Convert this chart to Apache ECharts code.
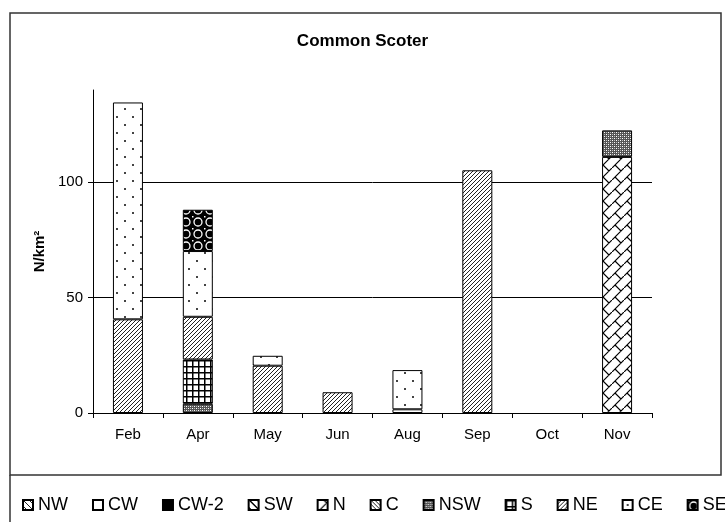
<!DOCTYPE html>
<html>
<head>
<meta charset="utf-8">
<script src="https://cdn.jsdelivr.net/npm/echarts@6/dist/echarts.min.js"></script>
<style>html,body{margin:0;padding:0;background:#fff;}#c{width:725px;height:522px;}</style>
</head>
<body>
<div id="c"></div>
<script>
// ---- data ----
var categories = ['Feb', 'Apr', 'May', 'Jun', 'Aug', 'Sep', 'Oct', 'Nov'];
var seriesNames = ['NW', 'CW', 'CW-2', 'SW', 'N', 'C', 'NSW', 'S', 'NE', 'CE', 'SE'];
var NW   = [null, null, null, null, null, null, null, null];
var CW   = [null, null, null, null, 1.6, null, null, null];
var CW2  = [null, null, null, null, null, null, null, null];
var SW   = [null, null, null, null, null, null, null, null];
var N    = [null, null, null, null, null, null, null, 111];
var C    = [null, null, null, null, null, null, null, null];
var NSW  = [null, 4, null, null, null, null, null, 11.5];
var S    = [null, 19.2, null, null, null, null, null, null];
var NE   = [40.6, 18.5, 20.5, 9, null, 105.2, null, null];
var CE   = [94, 28.5, 4.3, null, 17, null, null, null];
var SE   = [null, 17.9, null, null, null, null, null, null];
var seriesValues = [NW, CW, CW2, SW, N, C, NSW, S, NE, CE, SE];
var yTicks = [0, 50, 100];

// ---- patterns ----
function tile(w, h, draw) {
  var cv = document.createElement('canvas');
  cv.width = w; cv.height = h;
  var g = cv.getContext('2d');
  g.fillStyle = '#fff'; g.fillRect(0, 0, w, h);
  draw(g, w, h);
  return { image: cv, repeat: 'repeat' };
}
function px(g, x, y, c) { g.fillStyle = c || '#000'; g.fillRect(x, y, 1, 1); }

var patNW = tile(6, 6, function (g) { for (var i = 0; i < 6; i++) px(g, i, i, '#222'); });
var patSW = tile(8, 8, function (g) { for (var i = 0; i < 8; i++) { px(g, i, i); px(g, (i + 1) % 8, i); } });
var patN = tile(12, 12, function (g) {
  g.strokeStyle = '#000'; g.lineWidth = 1.2;
  g.beginPath();
  g.moveTo(-1, 13); g.lineTo(13, -1);
  g.moveTo(3, 9); g.lineTo(9, 15);
  g.moveTo(3, -3); g.lineTo(9, 3);
  g.moveTo(-9, 9); g.lineTo(-3, 15);
  g.moveTo(15, 9); g.lineTo(21, 15);
  g.moveTo(15, -3); g.lineTo(21, 3);
  g.stroke();
});
var patC = tile(4, 4, function (g) { for (var i = 0; i < 4; i++) px(g, i, i, '#222'); });
var patNSW = tile(4, 4, function (g) {
  g.fillStyle = '#555'; g.fillRect(0, 0, 4, 4);
  px(g, 0, 0, '#fff'); px(g, 2, 2, '#fff'); px(g, 2, 0, '#bbb'); px(g, 0, 2, '#bbb');
});
var patS = tile(6, 6, function (g) { g.fillStyle = '#000'; g.fillRect(0, 0, 6, 1.5); g.fillRect(0, 0, 1.5, 6); });
var patNE = tile(4, 4, function (g) { for (var i = 0; i < 4; i++) px(g, 3 - i, i, '#222'); });
var patCE = tile(16, 16, function (g) {
  g.fillStyle = '#444';
  g.fillRect(4, 4, 2, 2); g.fillRect(12, 12, 2, 2);
});
var patSE = tile(12, 12, function (g) {
  g.fillStyle = '#000'; g.fillRect(0, 0, 12, 12);
  g.strokeStyle = '#fff'; g.lineWidth = 1.3;
  g.beginPath(); g.arc(6, 6, 4, 0, Math.PI * 2); g.stroke();
  g.fillStyle = '#fff'; g.fillRect(0, 0, 1.5, 1.5);
});
var fills = [patNW, '#ffffff', '#000000', patSW, patN, patC, patNSW, patS, patNE, patCE, patSE];

var font = 'Liberation Sans, Arial, sans-serif';
var chart = echarts.init(document.getElementById('c'), null, { renderer: 'canvas' });

var series = seriesNames.map(function (name, i) {
  return {
    name: name,
    type: 'bar',
    stack: 'all',
    barWidth: 30,
    data: seriesValues[i],
    itemStyle: { color: fills[i], borderColor: '#000', borderWidth: 1 },
    emphasis: { disabled: true },
    animation: false
  };
});

chart.setOption({
  animation: false,
  title: {
    text: 'Common Scoter', left: 'center', top: 28,
    textStyle: { fontFamily: font, fontSize: 17, fontWeight: 'bold', color: '#000' }
  },
  legend: {
    data: seriesNames,
    left: 17, top: 491, width: 1200,
    itemWidth: 10, itemHeight: 10, itemGap: 24,
    icon: 'rect',
    selectedMode: false,
    textStyle: { fontFamily: font, fontSize: 18, color: '#000' }
  },
  grid: { left: 93, right: 73, top: 90, bottom: 109, containLabel: false },
  xAxis: {
    type: 'category',
    data: categories,
    axisLine: { lineStyle: { color: '#000', width: 1 } },
    axisTick: { show: true, length: 5, lineStyle: { color: '#000' } },
    axisLabel: { fontFamily: font, fontSize: 15, color: '#000', margin: 14 },
    splitLine: { show: false }
  },
  yAxis: {
    type: 'value',
    min: 0, max: 140, interval: 50,
    name: 'N/km²', nameLocation: 'middle', nameRotate: 90, nameGap: 46,
    nameTextStyle: { fontFamily: font, fontSize: 15, fontWeight: 'bold', color: '#000' },
    axisLine: { show: true, lineStyle: { color: '#000', width: 1 } },
    axisTick: { show: true, length: 5, lineStyle: { color: '#000' }, customValues: yTicks },
    axisLabel: { fontFamily: font, fontSize: 15, color: '#000', margin: 10, customValues: yTicks },
    splitLine: { show: true, lineStyle: { color: '#000', width: 1 } }
  },
  graphic: [
    { type: 'rect', shape: { x: 10, y: 13, width: 711, height: 462 }, style: { fill: 'none', stroke: '#333', lineWidth: 1.5 }, silent: true },
    { type: 'line', shape: { x1: 10, y1: 475, x2: 10, y2: 522 }, style: { stroke: '#333', lineWidth: 1.5 }, silent: true }
  ],
  series: series
});
</script>
</body>
</html>
